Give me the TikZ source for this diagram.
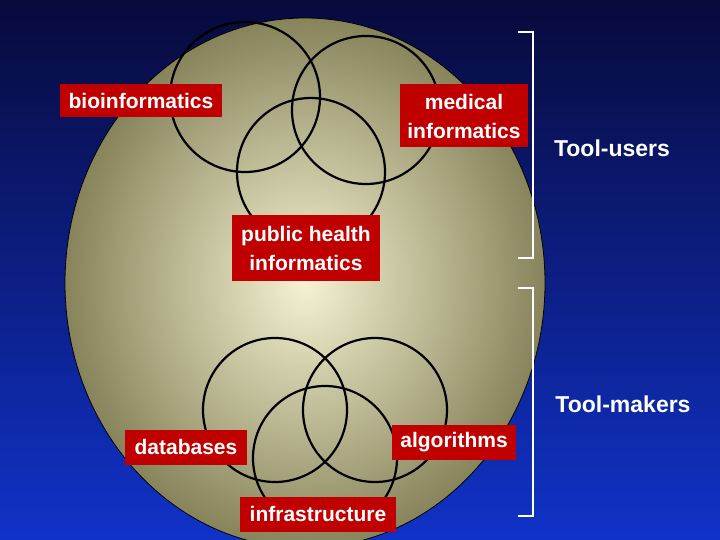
\documentclass[tikz,border=0pt]{standalone}
\usepackage{fontspec}
\setmainfont{Liberation Sans}
\definecolor{boxred}{HTML}{C00000}
\begin{document}
\begin{tikzpicture}[x=1pt,y=-1pt,
  lab/.style={fill=boxred,text=white,font=\fontsize{21}{29}\selectfont\bfseries,align=center,inner sep=3pt},
  ring/.style={draw=black,line width=2.2pt},
  side/.style={text=white,font=\fontsize{23}{26}\selectfont\bfseries},
  brk/.style={draw=white,line width=1.2pt}]
\shade[top color={rgb,255:red,8;green,10;blue,60},bottom color={rgb,255:red,16;green,50;blue,200}] (0,0) rectangle (720,540);
\useasboundingbox (0,0) rectangle (720,540);
\begin{scope}
\clip (0,0) rectangle (720,540);
\shade[inner color={rgb,255:red,245;green,242;blue,210},outer color={rgb,255:red,135;green,132;blue,92}] (305,283) ellipse (240 and 265);
\draw[black,line width=0.8pt] (305,283) ellipse (240 and 265);
\end{scope}
\draw[ring] (245,97) circle (75);
\draw[ring] (366,110) circle (74);
\draw[ring] (311,172) circle (74);
\draw[ring] (275,410) circle (72);
\draw[ring] (375,410) circle (72);
\draw[ring] (325,458) circle (72);
\node[lab,minimum width=162pt,minimum height=33pt] (bio) at (141,101) {bioinformatics};
\node[lab,minimum width=128pt,minimum height=63pt] (med) at (464,116) {medical\\informatics};
\node[lab,minimum width=148pt,minimum height=65pt] (pub) at (306,248) {public health\\informatics};
\node[lab,minimum width=122pt,minimum height=35pt] (db) at (186,447) {databases};
\node[lab,minimum width=124pt,minimum height=35pt] (alg) at (454,442) {algorithms};
\node[lab,minimum width=156pt,minimum height=35pt] (inf) at (318,514) {infrastructure};
\node[side] (tu) at (612,148) {Tool-users};
\node[side] (tm) at (623,404) {Tool-makers};
\coordinate (a1) at (518,32); \coordinate (a2) at (533,32);
\coordinate (a3) at (533,258); \coordinate (a4) at (518,258);
\coordinate (b1) at (518,288); \coordinate (b2) at (533,288);
\coordinate (b3) at (533,516); \coordinate (b4) at (518,516);
\draw[brk] (a1) -- (a2) -- (a3) -- (a4);
\draw[brk] (b1) -- (b2) -- (b3) -- (b4);
\end{tikzpicture}
\end{document}
